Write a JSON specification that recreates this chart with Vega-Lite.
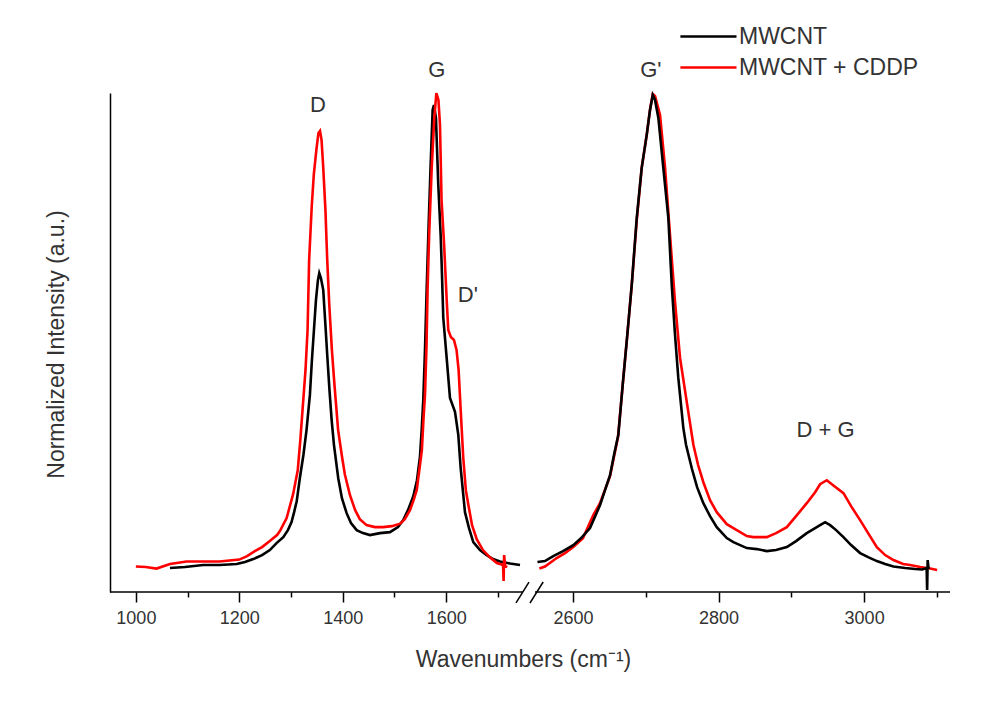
{
  "$schema": "https://vega.github.io/schema/vega-lite/v6.json",
  "width": 840,
  "height": 499,
  "autosize": {"type": "none"},
  "padding": {"left": 110, "top": 93, "right": 39, "bottom": 110},
  "config": {"view": {"stroke": null}, "font": "Liberation Sans"},
  "datasets": {
    "spectra": [
      {"sample": "MWCNT", "part": "A", "wn": 1066, "i": 0.048},
      {"sample": "MWCNT", "part": "A", "wn": 1095, "i": 0.050},
      {"sample": "MWCNT", "part": "A", "wn": 1130, "i": 0.054},
      {"sample": "MWCNT", "part": "A", "wn": 1162, "i": 0.054},
      {"sample": "MWCNT", "part": "A", "wn": 1195, "i": 0.056},
      {"sample": "MWCNT", "part": "A", "wn": 1211, "i": 0.060},
      {"sample": "MWCNT", "part": "A", "wn": 1227, "i": 0.066},
      {"sample": "MWCNT", "part": "A", "wn": 1244, "i": 0.074},
      {"sample": "MWCNT", "part": "A", "wn": 1259, "i": 0.084},
      {"sample": "MWCNT", "part": "A", "wn": 1272, "i": 0.098},
      {"sample": "MWCNT", "part": "A", "wn": 1285, "i": 0.110},
      {"sample": "MWCNT", "part": "A", "wn": 1294, "i": 0.124},
      {"sample": "MWCNT", "part": "A", "wn": 1301, "i": 0.140},
      {"sample": "MWCNT", "part": "A", "wn": 1306, "i": 0.160},
      {"sample": "MWCNT", "part": "A", "wn": 1311, "i": 0.182},
      {"sample": "MWCNT", "part": "A", "wn": 1317, "i": 0.228},
      {"sample": "MWCNT", "part": "A", "wn": 1324, "i": 0.275},
      {"sample": "MWCNT", "part": "A", "wn": 1330, "i": 0.325},
      {"sample": "MWCNT", "part": "A", "wn": 1336.5, "i": 0.395},
      {"sample": "MWCNT", "part": "A", "wn": 1340.4, "i": 0.465},
      {"sample": "MWCNT", "part": "A", "wn": 1344.3, "i": 0.525},
      {"sample": "MWCNT", "part": "A", "wn": 1348.2, "i": 0.585},
      {"sample": "MWCNT", "part": "A", "wn": 1352, "i": 0.625},
      {"sample": "MWCNT", "part": "A", "wn": 1354.6, "i": 0.639},
      {"sample": "MWCNT", "part": "A", "wn": 1357.8, "i": 0.629},
      {"sample": "MWCNT", "part": "A", "wn": 1362.3, "i": 0.605},
      {"sample": "MWCNT", "part": "A", "wn": 1366.5, "i": 0.535},
      {"sample": "MWCNT", "part": "A", "wn": 1370, "i": 0.475},
      {"sample": "MWCNT", "part": "A", "wn": 1374.3, "i": 0.405},
      {"sample": "MWCNT", "part": "A", "wn": 1378.5, "i": 0.345},
      {"sample": "MWCNT", "part": "A", "wn": 1383, "i": 0.295},
      {"sample": "MWCNT", "part": "A", "wn": 1391.3, "i": 0.228},
      {"sample": "MWCNT", "part": "A", "wn": 1398.4, "i": 0.188},
      {"sample": "MWCNT", "part": "A", "wn": 1407.5, "i": 0.158},
      {"sample": "MWCNT", "part": "A", "wn": 1415.9, "i": 0.138},
      {"sample": "MWCNT", "part": "A", "wn": 1426.9, "i": 0.124},
      {"sample": "MWCNT", "part": "A", "wn": 1439.1, "i": 0.118},
      {"sample": "MWCNT", "part": "A", "wn": 1452.6, "i": 0.114},
      {"sample": "MWCNT", "part": "A", "wn": 1471.9, "i": 0.118},
      {"sample": "MWCNT", "part": "A", "wn": 1491.3, "i": 0.120},
      {"sample": "MWCNT", "part": "A", "wn": 1506.8, "i": 0.130},
      {"sample": "MWCNT", "part": "A", "wn": 1517, "i": 0.144},
      {"sample": "MWCNT", "part": "A", "wn": 1526.1, "i": 0.164},
      {"sample": "MWCNT", "part": "A", "wn": 1536.4, "i": 0.192},
      {"sample": "MWCNT", "part": "A", "wn": 1543.5, "i": 0.224},
      {"sample": "MWCNT", "part": "A", "wn": 1549.3, "i": 0.271},
      {"sample": "MWCNT", "part": "A", "wn": 1552.6, "i": 0.325},
      {"sample": "MWCNT", "part": "A", "wn": 1555.7, "i": 0.385},
      {"sample": "MWCNT", "part": "A", "wn": 1559, "i": 0.485},
      {"sample": "MWCNT", "part": "A", "wn": 1562.2, "i": 0.605},
      {"sample": "MWCNT", "part": "A", "wn": 1565.7, "i": 0.725},
      {"sample": "MWCNT", "part": "A", "wn": 1569.6, "i": 0.846},
      {"sample": "MWCNT", "part": "A", "wn": 1573.8, "i": 0.966},
      {"sample": "MWCNT", "part": "A", "wn": 1576.3, "i": 0.976},
      {"sample": "MWCNT", "part": "A", "wn": 1580.2, "i": 0.950},
      {"sample": "MWCNT", "part": "A", "wn": 1584.7, "i": 0.816},
      {"sample": "MWCNT", "part": "A", "wn": 1589.3, "i": 0.715},
      {"sample": "MWCNT", "part": "A", "wn": 1591.3, "i": 0.655},
      {"sample": "MWCNT", "part": "A", "wn": 1594.4, "i": 0.549},
      {"sample": "MWCNT", "part": "A", "wn": 1600.9, "i": 0.469},
      {"sample": "MWCNT", "part": "A", "wn": 1607.3, "i": 0.389},
      {"sample": "MWCNT", "part": "A", "wn": 1617, "i": 0.361},
      {"sample": "MWCNT", "part": "A", "wn": 1623.4, "i": 0.315},
      {"sample": "MWCNT", "part": "A", "wn": 1628, "i": 0.248},
      {"sample": "MWCNT", "part": "A", "wn": 1636.3, "i": 0.160},
      {"sample": "MWCNT", "part": "A", "wn": 1644.1, "i": 0.128},
      {"sample": "MWCNT", "part": "A", "wn": 1652.4, "i": 0.100},
      {"sample": "MWCNT", "part": "A", "wn": 1665.3, "i": 0.084},
      {"sample": "MWCNT", "part": "A", "wn": 1678.3, "i": 0.074},
      {"sample": "MWCNT", "part": "A", "wn": 1690.5, "i": 0.066},
      {"sample": "MWCNT", "part": "A", "wn": 1704, "i": 0.061},
      {"sample": "MWCNT", "part": "A", "wn": 1723.4, "i": 0.057},
      {"sample": "MWCNT", "part": "A", "wn": 1742.7, "i": 0.054},

      {"sample": "MWCNT + CDDP", "part": "A", "wn": 1000, "i": 0.051},
      {"sample": "MWCNT + CDDP", "part": "A", "wn": 1019, "i": 0.050},
      {"sample": "MWCNT + CDDP", "part": "A", "wn": 1040, "i": 0.047},
      {"sample": "MWCNT + CDDP", "part": "A", "wn": 1066, "i": 0.056},
      {"sample": "MWCNT + CDDP", "part": "A", "wn": 1098, "i": 0.061},
      {"sample": "MWCNT + CDDP", "part": "A", "wn": 1133, "i": 0.061},
      {"sample": "MWCNT + CDDP", "part": "A", "wn": 1162, "i": 0.061},
      {"sample": "MWCNT + CDDP", "part": "A", "wn": 1200, "i": 0.065},
      {"sample": "MWCNT + CDDP", "part": "A", "wn": 1215, "i": 0.072},
      {"sample": "MWCNT + CDDP", "part": "A", "wn": 1230, "i": 0.082},
      {"sample": "MWCNT + CDDP", "part": "A", "wn": 1244, "i": 0.090},
      {"sample": "MWCNT + CDDP", "part": "A", "wn": 1259, "i": 0.102},
      {"sample": "MWCNT + CDDP", "part": "A", "wn": 1273, "i": 0.114},
      {"sample": "MWCNT + CDDP", "part": "A", "wn": 1278.5, "i": 0.122},
      {"sample": "MWCNT + CDDP", "part": "A", "wn": 1291.5, "i": 0.148},
      {"sample": "MWCNT + CDDP", "part": "A", "wn": 1304, "i": 0.196},
      {"sample": "MWCNT + CDDP", "part": "A", "wn": 1313, "i": 0.244},
      {"sample": "MWCNT + CDDP", "part": "A", "wn": 1318, "i": 0.305},
      {"sample": "MWCNT + CDDP", "part": "A", "wn": 1323, "i": 0.375},
      {"sample": "MWCNT + CDDP", "part": "A", "wn": 1328, "i": 0.445},
      {"sample": "MWCNT + CDDP", "part": "A", "wn": 1332, "i": 0.525},
      {"sample": "MWCNT + CDDP", "part": "A", "wn": 1335, "i": 0.665},
      {"sample": "MWCNT + CDDP", "part": "A", "wn": 1340, "i": 0.772},
      {"sample": "MWCNT + CDDP", "part": "A", "wn": 1344, "i": 0.836},
      {"sample": "MWCNT + CDDP", "part": "A", "wn": 1349, "i": 0.886},
      {"sample": "MWCNT + CDDP", "part": "A", "wn": 1353, "i": 0.920},
      {"sample": "MWCNT + CDDP", "part": "A", "wn": 1356, "i": 0.924},
      {"sample": "MWCNT + CDDP", "part": "A", "wn": 1359, "i": 0.906},
      {"sample": "MWCNT + CDDP", "part": "A", "wn": 1362, "i": 0.856},
      {"sample": "MWCNT + CDDP", "part": "A", "wn": 1366.5, "i": 0.766},
      {"sample": "MWCNT + CDDP", "part": "A", "wn": 1370, "i": 0.665},
      {"sample": "MWCNT + CDDP", "part": "A", "wn": 1374, "i": 0.575},
      {"sample": "MWCNT + CDDP", "part": "A", "wn": 1379, "i": 0.485},
      {"sample": "MWCNT + CDDP", "part": "A", "wn": 1384, "i": 0.415},
      {"sample": "MWCNT + CDDP", "part": "A", "wn": 1391, "i": 0.325},
      {"sample": "MWCNT + CDDP", "part": "A", "wn": 1398, "i": 0.275},
      {"sample": "MWCNT + CDDP", "part": "A", "wn": 1404, "i": 0.236},
      {"sample": "MWCNT + CDDP", "part": "A", "wn": 1414, "i": 0.194},
      {"sample": "MWCNT + CDDP", "part": "A", "wn": 1424, "i": 0.164},
      {"sample": "MWCNT + CDDP", "part": "A", "wn": 1433, "i": 0.146},
      {"sample": "MWCNT + CDDP", "part": "A", "wn": 1446, "i": 0.134},
      {"sample": "MWCNT + CDDP", "part": "A", "wn": 1462, "i": 0.130},
      {"sample": "MWCNT + CDDP", "part": "A", "wn": 1478, "i": 0.130},
      {"sample": "MWCNT + CDDP", "part": "A", "wn": 1495, "i": 0.132},
      {"sample": "MWCNT + CDDP", "part": "A", "wn": 1511, "i": 0.137},
      {"sample": "MWCNT + CDDP", "part": "A", "wn": 1520, "i": 0.146},
      {"sample": "MWCNT + CDDP", "part": "A", "wn": 1530, "i": 0.164},
      {"sample": "MWCNT + CDDP", "part": "A", "wn": 1537, "i": 0.184},
      {"sample": "MWCNT + CDDP", "part": "A", "wn": 1543, "i": 0.204},
      {"sample": "MWCNT + CDDP", "part": "A", "wn": 1548, "i": 0.244},
      {"sample": "MWCNT + CDDP", "part": "A", "wn": 1553, "i": 0.285},
      {"sample": "MWCNT + CDDP", "part": "A", "wn": 1556, "i": 0.345},
      {"sample": "MWCNT + CDDP", "part": "A", "wn": 1559, "i": 0.395},
      {"sample": "MWCNT + CDDP", "part": "A", "wn": 1562, "i": 0.495},
      {"sample": "MWCNT + CDDP", "part": "A", "wn": 1564, "i": 0.605},
      {"sample": "MWCNT + CDDP", "part": "A", "wn": 1567, "i": 0.715},
      {"sample": "MWCNT + CDDP", "part": "A", "wn": 1572, "i": 0.850},
      {"sample": "MWCNT + CDDP", "part": "A", "wn": 1577, "i": 0.950},
      {"sample": "MWCNT + CDDP", "part": "A", "wn": 1581, "i": 1.000},
      {"sample": "MWCNT + CDDP", "part": "A", "wn": 1585, "i": 0.986},
      {"sample": "MWCNT + CDDP", "part": "A", "wn": 1588, "i": 0.936},
      {"sample": "MWCNT + CDDP", "part": "A", "wn": 1591, "i": 0.786},
      {"sample": "MWCNT + CDDP", "part": "A", "wn": 1596, "i": 0.695},
      {"sample": "MWCNT + CDDP", "part": "A", "wn": 1601, "i": 0.585},
      {"sample": "MWCNT + CDDP", "part": "A", "wn": 1604, "i": 0.525},
      {"sample": "MWCNT + CDDP", "part": "A", "wn": 1609, "i": 0.511},
      {"sample": "MWCNT + CDDP", "part": "A", "wn": 1615, "i": 0.505},
      {"sample": "MWCNT + CDDP", "part": "A", "wn": 1620, "i": 0.485},
      {"sample": "MWCNT + CDDP", "part": "A", "wn": 1624, "i": 0.445},
      {"sample": "MWCNT + CDDP", "part": "A", "wn": 1628, "i": 0.365},
      {"sample": "MWCNT + CDDP", "part": "A", "wn": 1633, "i": 0.269},
      {"sample": "MWCNT + CDDP", "part": "A", "wn": 1638, "i": 0.204},
      {"sample": "MWCNT + CDDP", "part": "A", "wn": 1643, "i": 0.174},
      {"sample": "MWCNT + CDDP", "part": "A", "wn": 1650, "i": 0.134},
      {"sample": "MWCNT + CDDP", "part": "A", "wn": 1659, "i": 0.106},
      {"sample": "MWCNT + CDDP", "part": "A", "wn": 1671, "i": 0.084},
      {"sample": "MWCNT + CDDP", "part": "A", "wn": 1685, "i": 0.069},
      {"sample": "MWCNT + CDDP", "part": "A", "wn": 1698, "i": 0.058},
      {"sample": "MWCNT + CDDP", "part": "A", "wn": 1710, "i": 0.054},
      {"sample": "MWCNT + CDDP", "part": "A", "wn": 1711, "i": 0.022},
      {"sample": "MWCNT + CDDP", "part": "A", "wn": 1712, "i": 0.074},
      {"sample": "MWCNT + CDDP", "part": "A", "wn": 1714, "i": 0.052},
      {"sample": "MWCNT + CDDP", "part": "A", "wn": 1718, "i": 0.050},

      {"sample": "MWCNT + CDDP", "part": "B", "wn": 2553.8, "i": 0.047},
      {"sample": "MWCNT + CDDP", "part": "B", "wn": 2561.5, "i": 0.051},
      {"sample": "MWCNT + CDDP", "part": "B", "wn": 2577.6, "i": 0.068},
      {"sample": "MWCNT + CDDP", "part": "B", "wn": 2589, "i": 0.078},
      {"sample": "MWCNT + CDDP", "part": "B", "wn": 2600.4, "i": 0.090},
      {"sample": "MWCNT + CDDP", "part": "B", "wn": 2613.7, "i": 0.108},
      {"sample": "MWCNT + CDDP", "part": "B", "wn": 2627.9, "i": 0.154},
      {"sample": "MWCNT + CDDP", "part": "B", "wn": 2637.1, "i": 0.178},
      {"sample": "MWCNT + CDDP", "part": "B", "wn": 2650.9, "i": 0.232},
      {"sample": "MWCNT + CDDP", "part": "B", "wn": 2661.9, "i": 0.311},
      {"sample": "MWCNT + CDDP", "part": "B", "wn": 2668.3, "i": 0.415},
      {"sample": "MWCNT + CDDP", "part": "B", "wn": 2674.6, "i": 0.515},
      {"sample": "MWCNT + CDDP", "part": "B", "wn": 2680.7, "i": 0.615},
      {"sample": "MWCNT + CDDP", "part": "B", "wn": 2687.6, "i": 0.745},
      {"sample": "MWCNT + CDDP", "part": "B", "wn": 2694.4, "i": 0.850},
      {"sample": "MWCNT + CDDP", "part": "B", "wn": 2701.3, "i": 0.916},
      {"sample": "MWCNT + CDDP", "part": "B", "wn": 2705.8, "i": 0.966},
      {"sample": "MWCNT + CDDP", "part": "B", "wn": 2709.6, "i": 0.998},
      {"sample": "MWCNT + CDDP", "part": "B", "wn": 2712.7, "i": 0.994},
      {"sample": "MWCNT + CDDP", "part": "B", "wn": 2719.6, "i": 0.956},
      {"sample": "MWCNT + CDDP", "part": "B", "wn": 2726.5, "i": 0.850},
      {"sample": "MWCNT + CDDP", "part": "B", "wn": 2733.3, "i": 0.715},
      {"sample": "MWCNT + CDDP", "part": "B", "wn": 2740.2, "i": 0.581},
      {"sample": "MWCNT + CDDP", "part": "B", "wn": 2747.1, "i": 0.469},
      {"sample": "MWCNT + CDDP", "part": "B", "wn": 2756.3, "i": 0.381},
      {"sample": "MWCNT + CDDP", "part": "B", "wn": 2765.4, "i": 0.295},
      {"sample": "MWCNT + CDDP", "part": "B", "wn": 2771.8, "i": 0.255},
      {"sample": "MWCNT + CDDP", "part": "B", "wn": 2779.1, "i": 0.220},
      {"sample": "MWCNT + CDDP", "part": "B", "wn": 2788.3, "i": 0.184},
      {"sample": "MWCNT + CDDP", "part": "B", "wn": 2797.5, "i": 0.160},
      {"sample": "MWCNT + CDDP", "part": "B", "wn": 2811.3, "i": 0.136},
      {"sample": "MWCNT + CDDP", "part": "B", "wn": 2820.4, "i": 0.128},
      {"sample": "MWCNT + CDDP", "part": "B", "wn": 2838.8, "i": 0.112},
      {"sample": "MWCNT + CDDP", "part": "B", "wn": 2847.8, "i": 0.110},
      {"sample": "MWCNT + CDDP", "part": "B", "wn": 2866.3, "i": 0.110},
      {"sample": "MWCNT + CDDP", "part": "B", "wn": 2879, "i": 0.118},
      {"sample": "MWCNT + CDDP", "part": "B", "wn": 2893.8, "i": 0.130},
      {"sample": "MWCNT + CDDP", "part": "B", "wn": 2906.5, "i": 0.152},
      {"sample": "MWCNT + CDDP", "part": "B", "wn": 2921.2, "i": 0.178},
      {"sample": "MWCNT + CDDP", "part": "B", "wn": 2932.7, "i": 0.200},
      {"sample": "MWCNT + CDDP", "part": "B", "wn": 2939.5, "i": 0.216},
      {"sample": "MWCNT + CDDP", "part": "B", "wn": 2948.7, "i": 0.224},
      {"sample": "MWCNT + CDDP", "part": "B", "wn": 2957.4, "i": 0.214},
      {"sample": "MWCNT + CDDP", "part": "B", "wn": 2971.6, "i": 0.198},
      {"sample": "MWCNT + CDDP", "part": "B", "wn": 2982.1, "i": 0.172},
      {"sample": "MWCNT + CDDP", "part": "B", "wn": 2994.5, "i": 0.144},
      {"sample": "MWCNT + CDDP", "part": "B", "wn": 3005.5, "i": 0.118},
      {"sample": "MWCNT + CDDP", "part": "B", "wn": 3017.5, "i": 0.090},
      {"sample": "MWCNT + CDDP", "part": "B", "wn": 3028.9, "i": 0.074},
      {"sample": "MWCNT + CDDP", "part": "B", "wn": 3040.3, "i": 0.064},
      {"sample": "MWCNT + CDDP", "part": "B", "wn": 3053.6, "i": 0.056},
      {"sample": "MWCNT + CDDP", "part": "B", "wn": 3063.2, "i": 0.054},
      {"sample": "MWCNT + CDDP", "part": "B", "wn": 3077, "i": 0.050},
      {"sample": "MWCNT + CDDP", "part": "B", "wn": 3090.7, "i": 0.047},
      {"sample": "MWCNT + CDDP", "part": "B", "wn": 3100.3, "i": 0.044},

      {"sample": "MWCNT", "part": "B", "wn": 2551.2, "i": 0.060},
      {"sample": "MWCNT", "part": "B", "wn": 2561.5, "i": 0.062},
      {"sample": "MWCNT", "part": "B", "wn": 2572.9, "i": 0.072},
      {"sample": "MWCNT", "part": "B", "wn": 2586.3, "i": 0.082},
      {"sample": "MWCNT", "part": "B", "wn": 2600.4, "i": 0.094},
      {"sample": "MWCNT", "part": "B", "wn": 2612.4, "i": 0.110},
      {"sample": "MWCNT", "part": "B", "wn": 2623.4, "i": 0.128},
      {"sample": "MWCNT", "part": "B", "wn": 2637.1, "i": 0.174},
      {"sample": "MWCNT", "part": "B", "wn": 2644, "i": 0.204},
      {"sample": "MWCNT", "part": "B", "wn": 2650.9, "i": 0.234},
      {"sample": "MWCNT", "part": "B", "wn": 2656.4, "i": 0.275},
      {"sample": "MWCNT", "part": "B", "wn": 2662.3, "i": 0.315},
      {"sample": "MWCNT", "part": "B", "wn": 2668.3, "i": 0.415},
      {"sample": "MWCNT", "part": "B", "wn": 2674.6, "i": 0.515},
      {"sample": "MWCNT", "part": "B", "wn": 2680.7, "i": 0.615},
      {"sample": "MWCNT", "part": "B", "wn": 2687.6, "i": 0.750},
      {"sample": "MWCNT", "part": "B", "wn": 2694.4, "i": 0.850},
      {"sample": "MWCNT", "part": "B", "wn": 2701.3, "i": 0.916},
      {"sample": "MWCNT", "part": "B", "wn": 2705.8, "i": 0.966},
      {"sample": "MWCNT", "part": "B", "wn": 2709.6, "i": 0.996},
      {"sample": "MWCNT", "part": "B", "wn": 2712.7, "i": 0.986},
      {"sample": "MWCNT", "part": "B", "wn": 2717.3, "i": 0.950},
      {"sample": "MWCNT", "part": "B", "wn": 2724.1, "i": 0.850},
      {"sample": "MWCNT", "part": "B", "wn": 2731, "i": 0.750},
      {"sample": "MWCNT", "part": "B", "wn": 2735.7, "i": 0.615},
      {"sample": "MWCNT", "part": "B", "wn": 2740.2, "i": 0.515},
      {"sample": "MWCNT", "part": "B", "wn": 2744.7, "i": 0.429},
      {"sample": "MWCNT", "part": "B", "wn": 2751.6, "i": 0.329},
      {"sample": "MWCNT", "part": "B", "wn": 2755.3, "i": 0.295},
      {"sample": "MWCNT", "part": "B", "wn": 2763.2, "i": 0.248},
      {"sample": "MWCNT", "part": "B", "wn": 2770.5, "i": 0.210},
      {"sample": "MWCNT", "part": "B", "wn": 2779.1, "i": 0.178},
      {"sample": "MWCNT", "part": "B", "wn": 2788.3, "i": 0.152},
      {"sample": "MWCNT", "part": "B", "wn": 2797.5, "i": 0.130},
      {"sample": "MWCNT", "part": "B", "wn": 2811.3, "i": 0.108},
      {"sample": "MWCNT", "part": "B", "wn": 2820.4, "i": 0.100},
      {"sample": "MWCNT", "part": "B", "wn": 2838.8, "i": 0.088},
      {"sample": "MWCNT", "part": "B", "wn": 2852.5, "i": 0.086},
      {"sample": "MWCNT", "part": "B", "wn": 2866.3, "i": 0.082},
      {"sample": "MWCNT", "part": "B", "wn": 2879, "i": 0.084},
      {"sample": "MWCNT", "part": "B", "wn": 2893.8, "i": 0.090},
      {"sample": "MWCNT", "part": "B", "wn": 2906.5, "i": 0.102},
      {"sample": "MWCNT", "part": "B", "wn": 2921.2, "i": 0.118},
      {"sample": "MWCNT", "part": "B", "wn": 2932.7, "i": 0.128},
      {"sample": "MWCNT", "part": "B", "wn": 2939.5, "i": 0.134},
      {"sample": "MWCNT", "part": "B", "wn": 2946.4, "i": 0.140},
      {"sample": "MWCNT", "part": "B", "wn": 2953.3, "i": 0.134},
      {"sample": "MWCNT", "part": "B", "wn": 2961.5, "i": 0.124},
      {"sample": "MWCNT", "part": "B", "wn": 2971.6, "i": 0.110},
      {"sample": "MWCNT", "part": "B", "wn": 2982.1, "i": 0.094},
      {"sample": "MWCNT", "part": "B", "wn": 2994.5, "i": 0.078},
      {"sample": "MWCNT", "part": "B", "wn": 3005.5, "i": 0.070},
      {"sample": "MWCNT", "part": "B", "wn": 3017.5, "i": 0.062},
      {"sample": "MWCNT", "part": "B", "wn": 3028.9, "i": 0.056},
      {"sample": "MWCNT", "part": "B", "wn": 3040.3, "i": 0.051},
      {"sample": "MWCNT", "part": "B", "wn": 3056.4, "i": 0.048},
      {"sample": "MWCNT", "part": "B", "wn": 3070.1, "i": 0.046},
      {"sample": "MWCNT", "part": "B", "wn": 3079.7, "i": 0.045},
      {"sample": "MWCNT", "part": "B", "wn": 3085.9, "i": 0.048},
      {"sample": "MWCNT", "part": "B", "wn": 3086.6, "i": 0.004},
      {"sample": "MWCNT", "part": "B", "wn": 3087.3, "i": 0.064},
      {"sample": "MWCNT", "part": "B", "wn": 3088.7, "i": 0.046}
    ],
    "bands": [
      {"label": "D", "wn": 1352, "i": 0.976},
      {"label": "G", "wn": 1582, "i": 1.046},
      {"label": "D'", "wn": 1642, "i": 0.595},
      {"label": "G'", "wn": 2707, "i": 1.046},
      {"label": "D + G", "wn": 2947, "i": 0.325}
    ]
  },
  "layer": [
    {
      "data": {"name": "spectra"},
      "mark": {"type": "line", "strokeWidth": 2.6},
      "encoding": {
        "x": {
          "field": "wn",
          "type": "quantitative",
          "scale": {"domain": [950, 1748.5, 2547.8, 3118], "range": [0, 413, 425, 840], "nice": false, "zero": false},
          "axis": {
            "title": "Wavenumbers (cm⁻¹)",
            "titleFont": "Liberation Sans",
            "titleFontSize": 23,
            "titleFontWeight": "normal",
            "titleColor": "#333333",
            "titleX": 413,
            "titleY": 74,
            "titleBaseline": "alphabetic",
            "domain": false,
            "grid": false,
            "values": [1000, 1100, 1200, 1300, 1400, 1500, 1600, 1700, 2600, 2700, 2800, 2900, 3000, 3100],
            "format": "d",
            "labelExpr": "datum.value % 200 === 0 ? datum.label : ''",
            "labelOverlap": false,
            "labelFont": "Liberation Sans",
            "labelFontSize": 18,
            "labelColor": "#333333",
            "labelPadding": 7,
            "tickColor": "#000000",
            "tickWidth": 1.5,
            "tickSize": {"condition": {"test": "datum.value % 200 === 0", "value": 10}, "value": 5}
          }
        },
        "y": {
          "field": "i",
          "type": "quantitative",
          "scale": {"domain": [0, 1], "nice": false, "zero": false},
          "axis": {
            "title": "Normalized Intensity (a.u.)",
            "titleFont": "Liberation Sans",
            "titleFontSize": 23,
            "titleFontWeight": "normal",
            "titleColor": "#333333",
            "titleX": -47,
            "titleY": 251,
            "titleBaseline": "alphabetic",
            "titleAlign": "center",
            "grid": false,
            "ticks": false,
            "labels": false,
            "domain": true,
            "domainColor": "#000000",
            "domainWidth": 1.5
          }
        },
        "color": {
          "field": "sample",
          "type": "nominal",
          "scale": {"domain": ["MWCNT", "MWCNT + CDDP"], "range": ["#000000", "#ff0000"]},
          "legend": {
            "orient": "none",
            "legendX": 603,
            "legendY": -69,
            "title": null,
            "symbolType": "M-4.1,0H1",
            "symbolSize": 484,
            "symbolStrokeWidth": 2.5,
            "labelFont": "Liberation Sans",
            "labelFontSize": 23,
            "labelColor": "#333333",
            "labelLimit": 0,
            "labelOffset": 1,
            "rowPadding": 6,
            "padding": 0
          }
        },
        "detail": {"field": "part"}
      }
    },
    {
      "data": {"values": [{}]},
      "mark": {"type": "rule", "color": "#000000", "strokeWidth": 1.5},
      "encoding": {"x": {"datum": 950}, "x2": {"datum": 1748.5}, "y": {"datum": 0}}
    },
    {
      "data": {"values": [{}]},
      "mark": {"type": "rule", "color": "#000000", "strokeWidth": 1.5},
      "encoding": {"x": {"datum": 2547.8}, "x2": {"datum": 3118}, "y": {"datum": 0}}
    },
    {
      "data": {"values": [{}]},
      "mark": {"type": "rule", "color": "#000000", "strokeWidth": 1.5},
      "encoding": {"x": {"datum": 1735}, "x2": {"datum": 2148}, "y": {"datum": -0.022}, "y2": {"datum": 0.020}}
    },
    {
      "data": {"values": [{}]},
      "mark": {"type": "rule", "color": "#000000", "strokeWidth": 1.5},
      "encoding": {"x": {"datum": 2215}, "x2": {"datum": 2559}, "y": {"datum": -0.022}, "y2": {"datum": 0.020}}
    },
    {
      "data": {"name": "bands"},
      "mark": {"type": "text", "font": "Liberation Sans", "fontSize": 22, "color": "#333333", "align": "center", "baseline": "middle"},
      "encoding": {
        "x": {"field": "wn", "type": "quantitative"},
        "y": {"field": "i", "type": "quantitative"},
        "text": {"field": "label"}
      }
    }
  ]
}
